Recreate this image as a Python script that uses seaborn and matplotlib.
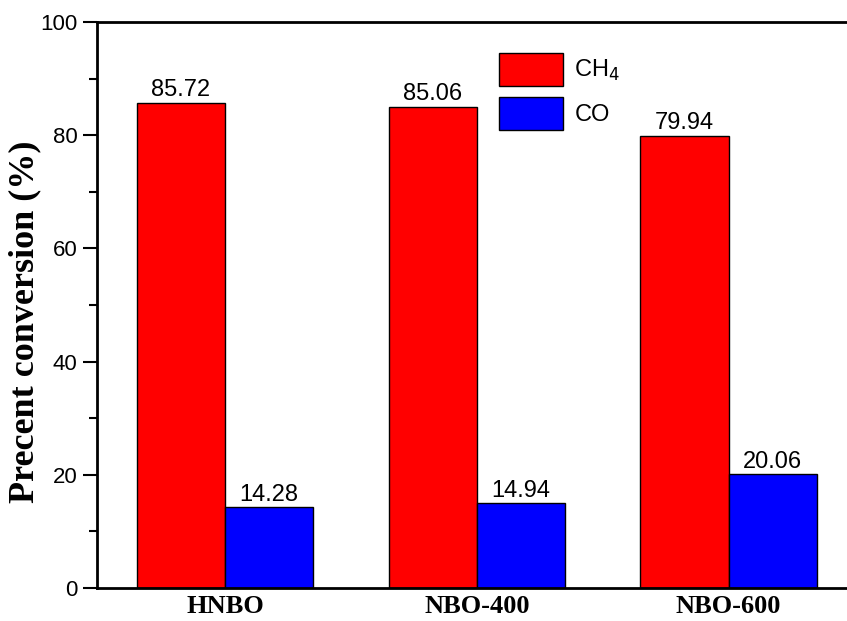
import matplotlib
matplotlib.use("Agg")
import matplotlib.pyplot as plt
import seaborn as sns
import pandas as pd
from matplotlib.ticker import MultipleLocator
from matplotlib.patches import Patch

samples = ["HNBO", "NBO-400", "NBO-600"]
ch4_values = [85.72, 85.06, 79.94]
co_values = [14.28, 14.94, 20.06]
series_names = ["CH$_4$", "CO"]
colors = ["#FF0000", "#0000FF"]

df = pd.DataFrame({
    "sample": samples * 2,
    "gas": [series_names[0]] * 3 + [series_names[1]] * 3,
    "value": ch4_values + co_values,
})

sns.set_style("white")
plt.rcParams["font.family"] = ["Liberation Sans", "DejaVu Sans"]
plt.rcParams["text.color"] = "black"
plt.rcParams["axes.labelcolor"] = "black"
plt.rcParams["xtick.color"] = "black"
plt.rcParams["ytick.color"] = "black"

fig = plt.figure(figsize=(8.47, 6.21), dpi=100)
ax = fig.add_axes([97 / 847, 33 / 621, 1 - 97 / 847, (588 - 22) / 621])

sns.barplot(data=df, x="sample", y="value", hue="gas", palette=colors,
            width=0.7, edgecolor="black", linewidth=1.0, saturation=1,
            ax=ax, legend=False)

for cont in ax.containers:
    ax.bar_label(cont, fmt="%.2f", fontsize=17, padding=1, color="black")

ax.set_xlim(-0.508, 2.47)
ax.set_ylim(0, 100)
ax.yaxis.set_major_locator(MultipleLocator(20))
ax.yaxis.set_minor_locator(MultipleLocator(10))
ax.tick_params(axis="y", which="major", direction="out", length=10, width=1.5,
               labelsize=16, left=True, pad=4, colors="black")
ax.tick_params(axis="y", which="minor", direction="out", length=6, width=1.5, left=True)
ax.tick_params(axis="x", which="both", length=0, pad=5)
for lbl in ax.get_xticklabels():
    lbl.set_fontfamily("Liberation Serif")
    lbl.set_fontweight("bold")
    lbl.set_fontsize(19)
    lbl.set_color("black")

ax.set_xlabel("")
ax.set_ylabel("Precent conversion (%)", fontfamily="Liberation Serif",
              fontweight="bold", fontsize=26, color="black")
ax.yaxis.set_label_coords((41 - 97) / 750, (588 - 322) / 566)

for side in ["left", "bottom", "top"]:
    ax.spines[side].set_visible(True)
    ax.spines[side].set_linewidth(2)
    ax.spines[side].set_color("black")
ax.spines["right"].set_visible(False)

handles = [Patch(facecolor=c, edgecolor="black", linewidth=1.0) for c in colors]
ax.legend(handles, series_names, loc="upper left", bbox_to_anchor=(0.52, 0.966),
          frameon=False, fontsize=17, handlelength=2.7, handleheight=1.75,
          handletextpad=0.5, labelspacing=0.5, borderpad=0)

fig.savefig("out.png", dpi=100)
